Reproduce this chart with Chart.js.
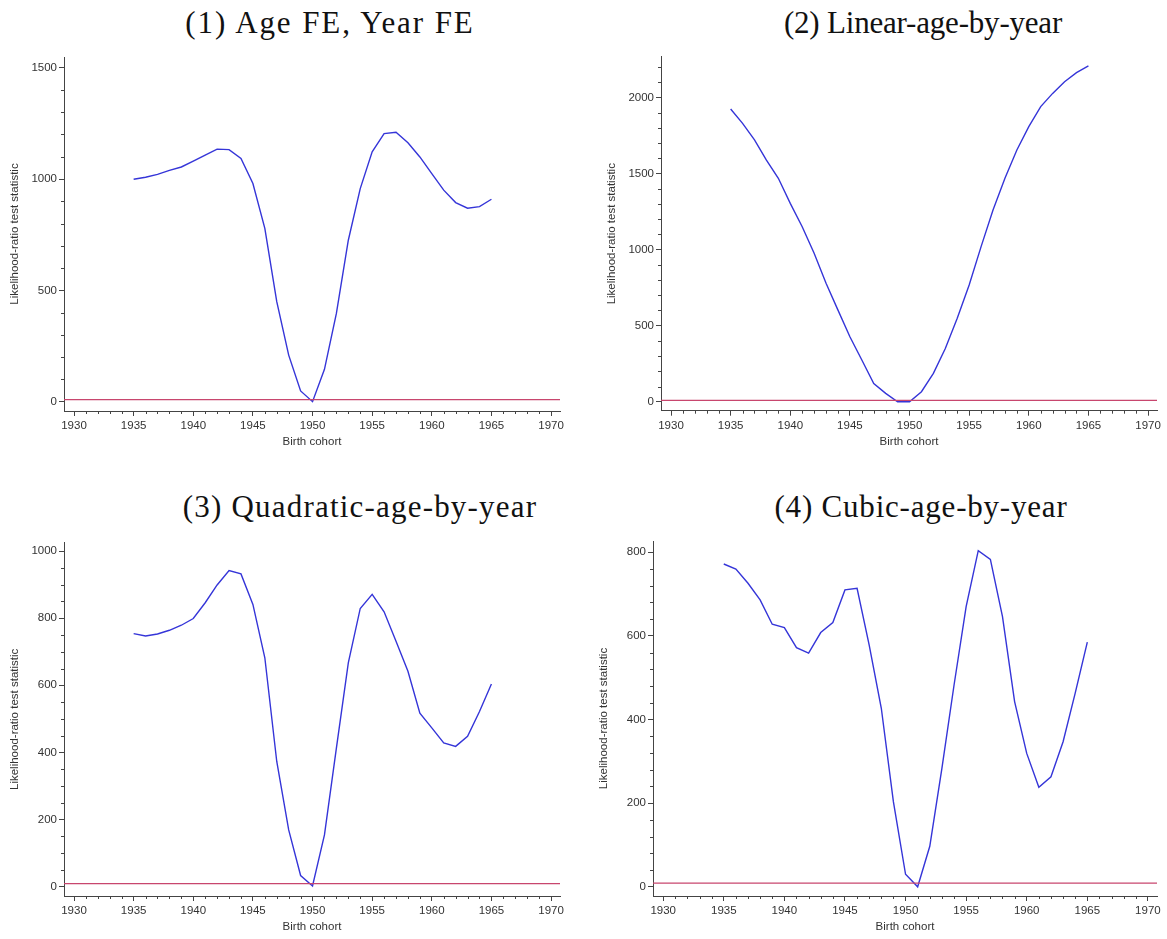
<!DOCTYPE html>
<html>
<head>
<meta charset="utf-8">
<script src="https://cdn.jsdelivr.net/npm/chart.js@4.4.1/dist/chart.umd.min.js"></script>
<style>
  body { margin: 0; background: #fff; width: 1167px; height: 939px; overflow: hidden; position: relative; }
  .ttl { position: absolute; font-family: "Liberation Serif", serif; font-size: 31px; line-height: 31px;
         color: #111; white-space: nowrap; transform: translateX(-50%); }
  .box { position: absolute; }
</style>
</head>
<body>
<div class="ttl" style="left:330px;top:7px;letter-spacing:1.9px">(1) Age FE, Year FE</div>
<div class="ttl" style="left:923px;top:7px;letter-spacing:-0.2px">(2) Linear-age-by-year</div>
<div class="ttl" style="left:360px;top:491px;letter-spacing:1.2px">(3) Quadratic-age-by-year</div>
<div class="ttl" style="left:921px;top:491px;letter-spacing:0.8px">(4) Cubic-age-by-year</div>

<div class="box" style="left:0px;top:40px;width:580px;height:415px"><canvas id="c1"></canvas></div>
<div class="box" style="left:597px;top:40px;width:570px;height:415px"><canvas id="c2"></canvas></div>
<div class="box" style="left:0px;top:525px;width:580px;height:412px"><canvas id="c3"></canvas></div>
<div class="box" style="left:589px;top:525px;width:578px;height:412px"><canvas id="c4"></canvas></div>

<script>
// birth cohorts on the x axis
const cohorts = [1935, 1936, 1937, 1938, 1939, 1940, 1941, 1942, 1943, 1944, 1945, 1946, 1947, 1948,
  1949, 1950, 1951, 1952, 1953, 1954, 1955, 1956, 1957, 1958, 1959, 1960, 1961, 1962, 1963, 1964, 1965]

// likelihood-ratio test statistic, one list per specification
const ageYearFE = [999, 1008, 1021, 1039, 1054, 1080, 1107, 1134, 1132, 1092, 980, 778, 449, 209,
  48, 0, 145, 396, 725, 957, 1122, 1204, 1210, 1163, 1099, 1024, 950, 894, 869, 876, 909]
const linearAge = [1923, 1829, 1720, 1588, 1468, 1303, 1150, 975, 778, 602, 427, 274, 120, 55,
  0, 0, 66, 186, 350, 548, 767, 1019, 1260, 1468, 1654, 1807, 1939, 2026, 2103, 2162, 2206]
const quadraticAge = [754, 747, 753, 764, 779, 799, 846, 899, 942, 932, 841, 682, 373, 169,
  33, 2, 154, 413, 667, 829, 871, 819, 731, 642, 517, 473, 428, 418, 448, 522, 604]
const cubicAge = [772, 760, 726, 686, 628, 620, 572, 559, 608, 632, 710, 714, 578, 427,
  203, 30, 0, 97, 283, 482, 670, 804, 783, 646, 443, 319, 238, 263, 347, 463, 585]

// critical value (red reference line)
const critValue = 9

// tick labels
const xTicks = [1930, 1935, 1940, 1945, 1950, 1955, 1960, 1965, 1970]
const yTicks1 = [0, 500, 1000, 1500]
const yTicks2 = [0, 500, 1000, 1500, 2000]
const yTicks3 = [0, 200, 400, 600, 800, 1000]
const yTicks4 = [0, 200, 400, 600, 800]

const xMin = 1929.16
const xMax = 1970.75
const axisColor = "#444"
const textColor = "#333"
const lineColor = "#3535d8"
const refColor = "#c8466e"
const tickFont = { family: "'Liberation Sans', Arial, sans-serif", size: 11.5 }

// small ticks between the labelled ones
const minorTicks = {
  id: "minorTicks",
  afterDraw(chart, args, opts) {
    const { ctx } = chart
    const x = chart.scales.x
    const y = chart.scales.y
    ctx.save()
    ctx.strokeStyle = axisColor
    ctx.lineWidth = 1
    ctx.beginPath()
    for (let v = 1930; v <= 1970; v++) {
      if (v % 5 === 0) continue
      const px = Math.round(x.getPixelForValue(v)) + 0.5
      ctx.moveTo(px, y.bottom)
      ctx.lineTo(px, y.bottom + 3)
    }
    for (let v = opts.step; v <= y.max; v += opts.step) {
      if (opts.major.includes(v)) continue
      const py = Math.round(y.getPixelForValue(v)) + 0.5
      ctx.moveTo(x.left - 3, py)
      ctx.lineTo(x.left, py)
    }
    ctx.stroke()
    ctx.restore()
  }
}

function makeChart(id, values, yTicks, yMin, yMax, minorStep, pad) {
  const serie = cohorts.map((c, i) => ({ x: c, y: values[i] }))
  new Chart(document.getElementById(id), {
    type: "line",
    data: {
      datasets: [
        {
          data: [{ x: xMin, y: critValue }, { x: xMax, y: critValue }],
          borderColor: refColor,
          borderWidth: 1.2,
          pointRadius: 0,
        },
        {
          data: serie,
          borderColor: lineColor,
          borderWidth: 1.4,
          pointRadius: 0,
          tension: 0,
        },
      ],
    },
    options: {
      responsive: true,
      maintainAspectRatio: false,
      animation: false,
      events: [],
      layout: { padding: pad },
      plugins: {
        legend: { display: false },
        tooltip: { enabled: false },
        minorTicks: { step: minorStep, major: yTicks },
      },
      scales: {
        x: {
          type: "linear",
          min: xMin,
          max: xMax,
          afterBuildTicks: (s) => { s.ticks = xTicks.map((v) => ({ value: v })) },
          afterFit: (s) => { s.height = 38; s.paddingLeft = 0; s.paddingRight = 0 },
          ticks: { font: tickFont, color: textColor, padding: 3, maxRotation: 0,
                   callback: (v) => String(v) },
          grid: { drawOnChartArea: false, tickLength: 5, tickColor: axisColor },
          border: { color: axisColor, width: 1 },
          title: { display: true, text: "Birth cohort", color: textColor, font: tickFont,
                   padding: { top: 0, bottom: 0 } },
        },
        y: {
          type: "linear",
          min: yMin,
          max: yMax,
          afterBuildTicks: (s) => { s.ticks = yTicks.map((v) => ({ value: v })) },
          afterFit: (s) => { s.width = 64; s.paddingTop = 0; s.paddingBottom = 0 },
          ticks: { font: tickFont, color: textColor, padding: 2, callback: (v) => String(v) },
          grid: { drawOnChartArea: false, tickLength: 5, tickColor: axisColor },
          border: { color: axisColor, width: 1 },
          title: { display: true, text: "Likelihood-ratio test statistic", color: textColor,
                   font: tickFont, padding: { top: 8.4, bottom: 0 } },
        },
      },
    },
    plugins: [minorTicks],
  })
}

makeChart("c1", ageYearFE, yTicks1, -42, 1548, 100, { left: 0, top: 17, right: 20, bottom: 6 })
makeChart("c2", linearAge, yTicks2, -59, 2267, 100, { left: 0, top: 16.7, right: 10, bottom: 6.3 })
makeChart("c3", quadraticAge, yTicks3, -28, 1025, 50, { left: 0, top: 17.7, right: 20, bottom: 3 })
makeChart("c4", cubicAge, yTicks4, -22, 827, 40, { left: 0, top: 16, right: 10, bottom: 3 })
</script>
</body>
</html>
